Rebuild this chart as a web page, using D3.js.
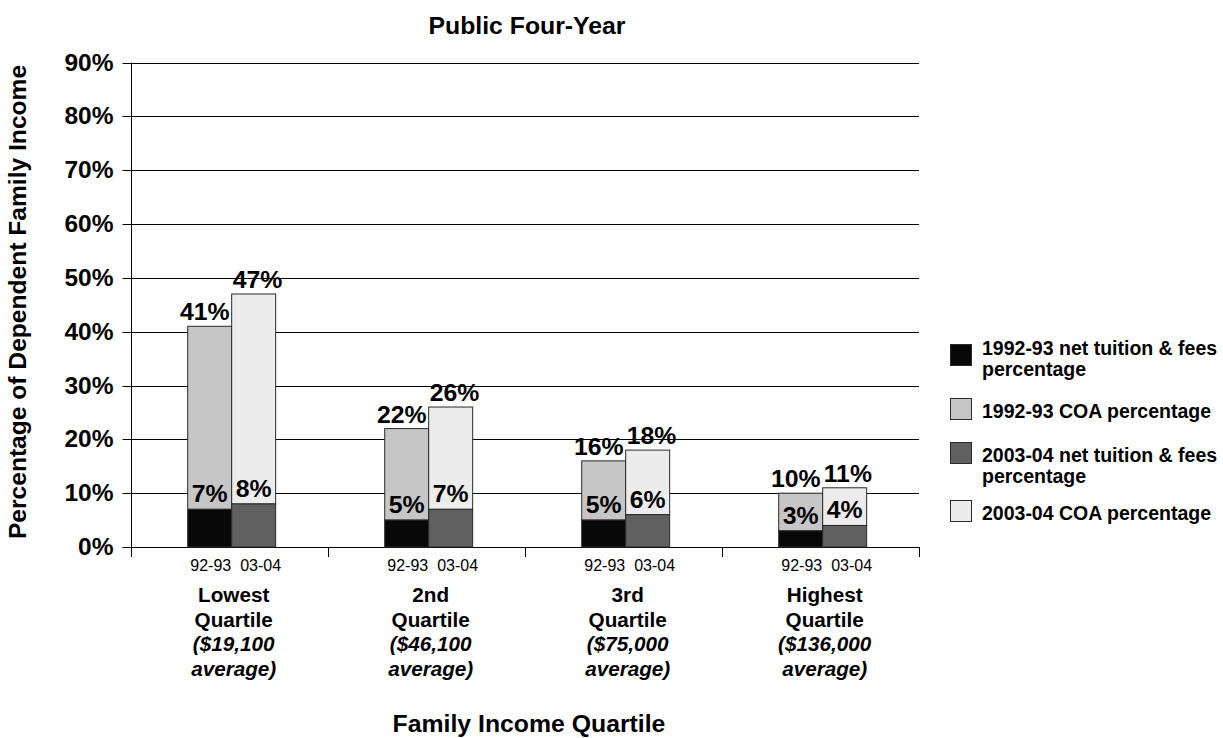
<!DOCTYPE html>
<html>
<head>
<meta charset="utf-8">
<script src="https://cdn.jsdelivr.net/npm/d3@7"></script>
<style>
  html, body { margin: 0; padding: 0; background: #fff; }
  svg { display: block; font-family: "Liberation Sans", Arial, sans-serif; }
</style>
</head>
<body>
<svg id="chart" width="1223" height="738"></svg>
<script>
// Share of dependent family income, public four-year institutions
const categories = ["Lowest", "2nd", "3rd", "Highest"];
const categoryAverages = ["($19,100", "($46,100", "($75,000", "($136,000"];
const years = ["92-93", "03-04"];
const net9293 = [7, 5, 5, 3];
const coa9293 = [41, 22, 16, 10];
const net0304 = [8, 7, 6, 4];
const coa0304 = [47, 26, 18, 11];
const yTicks = [0, 10, 20, 30, 40, 50, 60, 70, 80, 90];
const legendLabels = [
  ["1992-93 net tuition & fees", "percentage"],
  ["1992-93 COA percentage"],
  ["2003-04 net tuition & fees", "percentage"],
  ["2003-04 COA percentage"]
];
const legendColors = ["#080808", "#c6c6c6", "#606060", "#ececec"];

const svg = d3.select("#chart");

const plotLeft = 131, plotRight = 919, plotBottom = 547, plotTop = 62.5;

const y = d3.scaleLinear().domain([0, 90]).range([plotBottom, plotTop]);
const x0 = d3.scaleBand().domain(categories).range([plotLeft, plotRight]).paddingInner(0).paddingOuter(0);
const x1 = d3.scaleBand().domain(years).range([0, x0.bandwidth()]).paddingInner(0).paddingOuter(1.24).align(0.52);

// gridlines
svg.append("g")
  .selectAll("line")
  .data(yTicks)
  .join("line")
  .attr("x1", plotLeft).attr("x2", plotRight)
  .attr("y1", d => Math.round(y(d)) + 0.5).attr("y2", d => Math.round(y(d)) + 0.5)
  .attr("stroke", "#000").attr("stroke-width", 1);

// y axis
const yAxis = svg.append("g")
  .attr("transform", `translate(${plotLeft + 0.5},0)`)
  .call(d3.axisLeft(y).tickValues(yTicks).tickFormat(d => d + "%").tickSize(9).tickPadding(9).tickSizeOuter(0));
yAxis.select(".domain").remove();
yAxis.selectAll(".tick line").attr("stroke", "#000");
yAxis.selectAll(".tick").attr("transform", d => `translate(0,${Math.round(y(d)) + 0.5})`);
yAxis.selectAll(".tick text")
  .attr("font-size", 24.5).attr("font-weight", "bold").attr("fill", "#000")
  .attr("font-family", "Liberation Sans, Arial, sans-serif");

// vertical axis line
svg.append("line")
  .attr("x1", plotLeft + 0.5).attr("x2", plotLeft + 0.5)
  .attr("y1", plotTop).attr("y2", plotBottom + 10)
  .attr("stroke", "#000");

// category boundary ticks on the x axis
const boundaries = categories.map(c => x0(c)).concat([x0.range()[1]]);
svg.append("g")
  .selectAll("line")
  .data(boundaries)
  .join("line")
  .attr("x1", d => Math.round(d) + 0.5).attr("x2", d => Math.round(d) + 0.5)
  .attr("y1", plotBottom).attr("y2", plotBottom + 10)
  .attr("stroke", "#000");

// bars
const barData = [];
categories.forEach((c, i) => {
  barData.push({ cat: c, year: years[0], net: net9293[i], coa: coa9293[i], netColor: legendColors[0], coaColor: legendColors[1], side: 0 });
  barData.push({ cat: c, year: years[1], net: net0304[i], coa: coa0304[i], netColor: legendColors[2], coaColor: legendColors[3], side: 1 });
});

const bars = svg.append("g");
barData.forEach(d => {
  const bx = x0(d.cat) + x1(d.year);
  const bw = x1.bandwidth();
  // COA segment stacked on top of net tuition
  bars.append("rect")
    .attr("x", bx).attr("width", bw)
    .attr("y", y(d.coa)).attr("height", y(d.net) - y(d.coa))
    .attr("fill", d.coaColor).attr("stroke", "#2a2a2a").attr("stroke-width", 1);
  bars.append("rect")
    .attr("x", bx).attr("width", bw)
    .attr("y", y(d.net)).attr("height", y(0) - y(d.net))
    .attr("fill", d.netColor).attr("stroke", "#2a2a2a").attr("stroke-width", 1);
});

// value labels
const labels = svg.append("g").attr("font-size", 24.8).attr("font-weight", "bold").attr("fill", "#000");
barData.forEach(d => {
  const bx = x0(d.cat) + x1(d.year);
  const bw = x1.bandwidth();
  labels.append("text")
    .attr("x", d.side === 0 ? bx + bw - 2 : bx + 1)
    .attr("y", y(d.coa) - 6)
    .attr("text-anchor", d.side === 0 ? "end" : "start")
    .text(d.coa + "%");
  labels.append("text")
    .attr("x", bx + bw / 2)
    .attr("y", y(d.net) - 7)
    .attr("text-anchor", "middle")
    .text(d.net + "%");
});

// year labels under each pair
categories.forEach(c => {
  const gx = x0(c) + x1(years[0]) + x1.bandwidth() + 4;
  svg.append("text")
    .attr("x", gx).attr("y", 571)
    .attr("text-anchor", "middle")
    .attr("font-size", 16)
    .attr("xml:space", "preserve")
    .style("white-space", "pre")
    .text(years.join("  "));
});

// category labels
categories.forEach((c, i) => {
  const cx = x0(c) + x1(years[0]) + x1.bandwidth() + 2;
  const t = svg.append("text")
    .attr("x", cx).attr("text-anchor", "middle")
    .attr("font-size", 20.7).attr("font-weight", "bold");
  const lines = [[c, "normal"], ["Quartile", "normal"], [categoryAverages[i], "italic"], ["average)", "italic"]];
  lines.forEach((ln, k) => {
    t.append("tspan").attr("x", cx).attr("y", 602 + k * 24.5)
      .attr("font-style", ln[1]).text(ln[0]);
  });
});

// titles
svg.append("text")
  .attr("x", 527).attr("y", 34)
  .attr("text-anchor", "middle").attr("font-size", 24.8).attr("font-weight", "bold")
  .text("Public Four-Year");

svg.append("text")
  .attr("x", 529).attr("y", 732)
  .attr("text-anchor", "middle").attr("font-size", 24.8).attr("font-weight", "bold")
  .text("Family Income Quartile");

svg.append("text")
  .attr("transform", "translate(26,302) rotate(-90)")
  .attr("text-anchor", "middle").attr("font-size", 24.6).attr("font-weight", "bold")
  .text("Percentage of Dependent Family Income");

// legend: swatch top and first text baseline for each row
const legendSwatchTop = [344, 398, 442, 500];
const legendBaseline = [355, 418, 462, 520];
const legend = svg.append("g");
legendLabels.forEach((lines, i) => {
  legend.append("rect")
    .attr("x", 950.5).attr("y", legendSwatchTop[i] + 0.5).attr("width", 21).attr("height", 21)
    .attr("fill", legendColors[i]).attr("stroke", "#2a2a2a");
  const t = legend.append("text").attr("font-size", 19.5).attr("font-weight", "bold");
  lines.forEach((ln, k) => {
    t.append("tspan").attr("x", 982).attr("y", legendBaseline[i] + k * 21).text(ln);
  });
});
</script>
</body>
</html>
